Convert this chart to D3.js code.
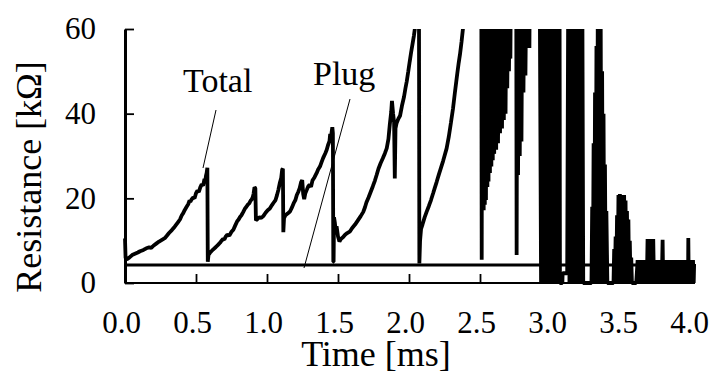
<!DOCTYPE html>
<html><head><meta charset="utf-8">
<script src="https://cdn.jsdelivr.net/npm/d3@7"></script>
<style>
body{margin:0;background:#fff}
svg{display:block}
text{font-family:"Liberation Serif","Times New Roman",serif;fill:#000}
</style>
</head><body>
<svg id="chart" width="713" height="374"></svg>
<script>
// ---- data (time in ms, resistance in kΩ) ----
const xTickValues = [0, 0.5, 1.0, 1.5, 2.0, 2.5, 3.0, 3.5, 4.0];
const xTickLabels = ["0.0","0.5","1.0","1.5","2.0","2.5","3.0","3.5","4.0"];
const yTickValues = [0, 20, 40, 60];
const yTickLabels = ["0","20","40","60"];

const plugSeries = [[0, 4.25], [4.0, 4.25]];

const rampA = [[0,10.5],[0.004,6],[0.012,5.6],[0.03,6.0],[0.05,6.6],[0.07,6.9],[0.09,7.2],[0.106,7.5],[0.13,7.8],[0.15,8.2],[0.17,8.4],[0.185,8.3],[0.2,8.8],[0.22,9.3],[0.24,9.8],[0.26,10.2],[0.28,10.6],[0.293,11.1],[0.31,11.8],[0.33,12.5],[0.35,13.3],[0.37,14.2],[0.387,15.0],[0.40,16.0],[0.41,16.5],[0.42,17.2],[0.434,18.0],[0.445,18.6],[0.455,19.5],[0.46,19.2],[0.47,19.8],[0.48,20.2],[0.49,20.0],[0.50,21.2],[0.51,21.8],[0.52,21.5],[0.53,22.6],[0.54,23.3],[0.55,23.0],[0.56,24.6],[0.565,24.0],[0.57,25.3],[0.575,26.0],[0.58,27.2],[0.583,5.0]];

const rampB = [[0.588,6.6],[0.60,7.2],[0.62,7.9],[0.64,8.5],[0.655,9.0],[0.669,9.5],[0.68,10.0],[0.69,10.4],[0.70,10.3],[0.71,11.0],[0.72,11.4],[0.735,11.2],[0.75,12.1],[0.763,12.6],[0.775,13.5],[0.79,14.6],[0.80,15.0],[0.81,15.6],[0.82,16.0],[0.833,16.8],[0.845,17.6],[0.855,18.0],[0.865,18.5],[0.875,18.8],[0.885,19.5],[0.892,19.7],[0.90,20.3],[0.905,21.0],[0.912,22.6],[0.918,22.4],[0.922,14.8]];

const rampC = [[0.93,15.0],[0.945,15.5],[0.96,15.4],[0.974,15.8],[0.99,16.6],[1.005,17.2],[1.02,17.6],[1.035,18.4],[1.045,18.9],[1.06,19.6],[1.07,20.7],[1.08,22.0],[1.09,23.6],[1.10,24.8],[1.107,26.8],[1.112,27.0],[1.115,12.0],[1.12,15.3]];

const rampD = [[1.13,16.0],[1.145,16.4],[1.162,16.9],[1.175,17.8],[1.19,19.0],[1.2,19.6],[1.21,20.8],[1.22,21.5],[1.23,22.4],[1.24,23.8],[1.248,24.3],[1.255,21.0],[1.262,19.8],[1.27,21.2],[1.28,22.0],[1.29,22.8],[1.30,23.2],[1.31,22.7],[1.32,24.2],[1.335,25.0],[1.35,26.0],[1.36,26.8],[1.373,27.5],[1.385,28.6],[1.395,29.5],[1.41,30.6],[1.42,31.4],[1.43,32.6],[1.44,33.5],[1.445,35.2],[1.45,34.0],[1.455,35.6],[1.46,36.8],[1.464,35.4],[1.467,5.0]];

const rampE = [[1.469,5.0],[1.472,15.5],[1.478,14.2],[1.485,12.0],[1.49,13.4],[1.50,11.0],[1.51,9.8],[1.52,10.4],[1.535,10.8],[1.55,11.4],[1.565,11.8],[1.585,12.2],[1.60,13.0],[1.62,13.8],[1.64,14.8],[1.66,15.8],[1.678,16.8],[1.69,17.9],[1.70,19.0],[1.715,20.2],[1.73,21.5],[1.745,22.8],[1.76,24.2],[1.772,25.5],[1.785,27.0],[1.80,28.3],[1.815,29.4],[1.83,30.6],[1.843,31.8],[1.855,34.0],[1.865,37.5],[1.875,40.5],[1.88,43.0],[1.888,40.0],[1.895,38.0],[1.90,24.7],[1.905,36.5],[1.913,37.8],[1.925,38.8],[1.937,39.5],[1.95,41.8],[1.965,44.0],[1.975,46.0],[1.984,47.6],[1.995,50.0],[2.005,52.3],[2.015,54.5],[2.025,56.5],[2.035,58.5],[2.045,61],[2.055,64],[2.065,70],[2.07,70],[2.073,4.6]];

const rampF = [[2.078,10.0],[2.085,12.8],[2.095,13.8],[2.11,15.5],[2.124,16.8],[2.14,18.2],[2.155,19.6],[2.17,21.2],[2.18,22.3],[2.195,23.9],[2.21,25.6],[2.225,27.2],[2.24,28.8],[2.25,30.0],[2.265,31.8],[2.28,34.5],[2.295,37.8],[2.31,41.2],[2.324,45.2],[2.34,49.5],[2.35,52.0],[2.359,54],[2.37,57],[2.383,61],[2.40,75],[2.509,75],[2.512,5.5]];

const burstG = [[2.515,75],[2.518,20],[2.522,70],[2.526,17.2],[2.53,70],[2.534,18.5],[2.538,70],[2.542,19.6],[2.546,70],[2.552,22.7],[2.556,70],[2.56,24],[2.565,70],[2.57,26],[2.575,70],[2.58,27.5],[2.585,70],[2.59,29],[2.595,70],[2.60,30.5],[2.607,70],[2.614,31.5],[2.62,70],[2.627,33],[2.634,70],[2.641,35.4],[2.648,70],[2.655,36.5],[2.662,70],[2.668,38.5],[2.674,70],[2.68,40],[2.686,70],[2.692,46],[2.698,70],[2.704,50],[2.71,70],[2.714,53],[2.718,75],[2.755,75],[2.758,6.6],[2.762,70],[2.768,25.5],[2.774,70],[2.78,30],[2.786,70],[2.792,33.4],[2.798,70],[2.806,45],[2.812,70],[2.82,49],[2.826,70],[2.845,70],[2.848,55.5],[2.851,75],[2.92,75]];

const columns = [[2.93,0],[2.94,75],[2.95,0],[2.96,75],[2.97,0],[2.98,75],[2.99,0],[3.00,75],[3.01,0],[3.02,75],[3.03,0],[3.04,75],[3.05,0],[3.06,75],[3.063,0],[3.08,0],[3.082,2.3],[3.114,2.3],[3.122,75],[3.13,0],[3.14,75],[3.15,0],[3.16,75],[3.17,0],[3.18,75],[3.19,0],[3.20,75],[3.21,0],[3.22,75],[3.227,0],[3.285,0]];

const spikes = [[3.29,18],[3.295,0],[3.30,33],[3.305,0],[3.31,45],[3.315,0],[3.32,56],[3.325,0],[3.33,75],[3.335,0],[3.34,75],[3.345,0],[3.35,62],[3.355,0],[3.36,50],[3.365,0],[3.37,40],[3.375,0],[3.38,28],[3.385,0],[3.39,17],[3.397,0],[3.44,0],[3.445,8],[3.45,0],[3.455,11],[3.46,0],[3.465,16],[3.47,0],[3.475,20.8],[3.48,0],[3.485,21],[3.49,0],[3.495,20.8],[3.50,0],[3.505,20.5],[3.51,0],[3.515,20.8],[3.52,0],[3.525,19.5],[3.53,0],[3.535,17],[3.54,0],[3.545,15],[3.55,0],[3.555,10],[3.56,0],[3.565,6],[3.57,0],[3.60,0]];

const tail = [[3.61,5.4],[3.62,0],[3.63,5.4],[3.64,0],[3.65,5.4],[3.66,0],[3.67,5.4],[3.675,0],[3.68,10.4],[3.69,0],[3.70,10.4],[3.71,0],[3.72,10.4],[3.725,0],[3.73,5.4],[3.74,0],[3.75,5.4],[3.76,0],[3.77,5.4],[3.78,0],[3.786,10.2],[3.79,0],[3.80,5.4],[3.81,0],[3.82,5.4],[3.83,0],[3.84,5.4],[3.85,0],[3.86,5.4],[3.87,0],[3.88,5.4],[3.89,0],[3.90,5.4],[3.91,0],[3.92,5.4],[3.93,0],[3.94,5.4],[3.95,0],[3.96,5.4],[3.965,0],[3.967,10.6],[3.97,0],[3.98,5.4],[3.99,0],[4.00,5.4],[4.005,0],[4.008,4.5]];

const totalSeries = [].concat(rampA, rampB, rampC, rampD, rampE, rampF, burstG, columns, spikes, tail);

// ---- drawing ----
const FONT = '"Liberation Serif", "Times New Roman", serif';
const svg = d3.select("#chart");
const x = d3.scaleLinear().domain([0, 4]).range([125, 693]);
const y = d3.scaleLinear().domain([0, 60]).range([283, 29]);

svg.append("defs").append("clipPath").attr("id", "plotClip")
  .append("rect").attr("x", 123).attr("y", 29).attr("width", 575).attr("height", 256);

const line = d3.line().x(d => x(d[0])).y(d => y(d[1]));

const plot = svg.append("g").attr("clip-path", "url(#plotClip)");
plot.append("path").datum(plugSeries).attr("d", line)
  .attr("fill", "none").attr("stroke", "#000").attr("stroke-width", 3);
plot.append("path").datum(totalSeries).attr("d", line)
  .attr("fill", "none").attr("stroke", "#000").attr("stroke-width", 3.8)
  .attr("stroke-linejoin", "bevel");

// axes
const xAxis = d3.axisBottom(x).tickValues(xTickValues)
  .tickFormat((d, i) => xTickLabels[i]).tickSizeInner(-9).tickSizeOuter(0).tickPadding(28);
const gx = svg.append("g").attr("transform", "translate(0,283)").call(xAxis)
  .attr("font-family", FONT).attr("font-size", 31);
gx.select(".domain").attr("stroke-width", 2).attr("d", "M125,0H695");
gx.selectAll(".tick line").attr("stroke-width", 1.8);
gx.selectAll(".tick text").attr("font-size", 31).attr("dx", -4)
  .style("font-family", FONT);

const yAxis = d3.axisLeft(y).tickValues(yTickValues)
  .tickFormat((d, i) => yTickLabels[i]).tickSizeInner(-9).tickSizeOuter(0).tickPadding(29);
const gy = svg.append("g").attr("transform", "translate(125,0)").call(yAxis)
  .attr("font-family", FONT).attr("font-size", 31);
gy.select(".domain").attr("stroke-width", 3);
gy.selectAll(".tick line").attr("stroke-width", 1.8);
gy.selectAll(".tick text").attr("font-size", 31)
  .style("font-family", FONT);

// axis titles
svg.append("text").attr("x", 376).attr("y", 366).attr("text-anchor", "middle")
  .attr("font-family", FONT).attr("font-size", 36).text("Time [ms]");
svg.append("text").attr("transform", "translate(41,177) rotate(-90)")
  .attr("text-anchor", "middle").attr("font-family", FONT).attr("font-size", 36)
  .text("Resistance [kΩ]");

// annotations
svg.append("text").attr("x", 183).attr("y", 92).attr("font-family", FONT)
  .attr("font-size", 34).text("Total");
svg.append("text").attr("x", 313).attr("y", 85).attr("font-family", FONT)
  .attr("font-size", 34).text("Plug");
svg.append("line").attr("x1", 216).attr("y1", 110).attr("x2", 203).attr("y2", 168)
  .attr("stroke", "#000").attr("stroke-width", 1);
svg.append("line").attr("x1", 350).attr("y1", 99).attr("x2", 304).attr("y2", 268)
  .attr("stroke", "#000").attr("stroke-width", 1);
</script>
</body></html>
